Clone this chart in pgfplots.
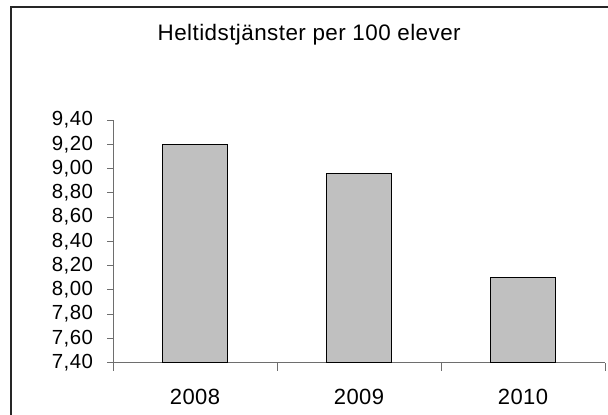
\documentclass[border=0pt]{standalone}
\usepackage{fontspec}
\setmainfont{Liberation Sans}[LetterSpace=2]
\usepackage{pgfplots}
\pgfplotsset{compat=1.18}
\definecolor{barfill}{RGB}{192,192,192}
\definecolor{axisgray}{RGB}{110,110,110}
\begin{document}
\begin{tikzpicture}
\useasboundingbox (0pt,0pt) rectangle (304pt,-207pt);
\draw[line width=0.65pt, black!85] (5.5pt,-215pt) -- (5.5pt,-3.5pt) -- (312pt,-3.5pt);
\node[font=\fontsize{11.2pt}{13pt}\selectfont, anchor=base, inner sep=0pt] at (154.6pt,-20.15pt) {Heltidstjänster per 100 elever};
\begin{axis}[
  at={(56.5pt,-181.35pt)}, anchor=south west,
  width=246pt, height=121.35pt, scale only axis,
  xmin=0, xmax=3, ymin=7.4, ymax=9.4,
  axis x line*=bottom, axis y line*=left,
  axis line style={axisgray, line width=0.5pt},
  xtick={0.5,1.5,2.5}, xticklabels={2008,2009,2010},
  minor xtick={0,1,2,3},
  ytick={7.4,7.6,7.8,8.0,8.2,8.4,8.6,8.8,9.0,9.2,9.4},
  tick align=outside,
  major tick length=3pt, minor tick length=4pt,
  tick style={axisgray, line width=0.5pt},
  major x tick style={draw=none},
  /pgf/number format/assume math mode=true,
  yticklabel style={/pgf/number format/.cd, fixed, fixed zerofill, precision=2, use comma, /tikz/.cd,
    font=\fontsize{10.2pt}{12pt}\selectfont, inner sep=0pt, anchor=east, xshift=-6.85pt},
  xticklabel style={font=\fontsize{11pt}{13pt}\selectfont, inner sep=0pt, anchor=north, yshift=-9.8pt},
]
\addplot[ybar, bar width=32.5pt, fill=barfill, draw=black, line width=0.5pt]
  coordinates {(0.5,9.20) (1.5,8.96) (2.5,8.10)};
\end{axis}
\end{tikzpicture}
\end{document}
